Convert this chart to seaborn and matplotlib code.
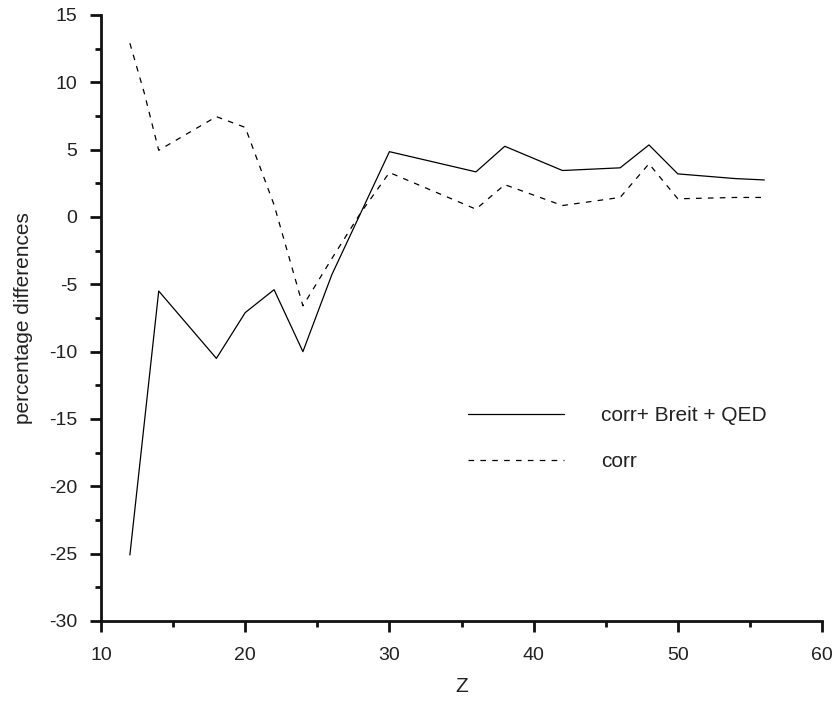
import matplotlib
matplotlib.use("Agg")
from matplotlib import pyplot as plt
from matplotlib.ticker import MultipleLocator
import seaborn as sns
import pandas as pd

# values
z_full = [12, 14, 18, 20, 22, 24, 26, 30, 36, 38, 42, 46, 48, 50, 54, 56]
diff_full = [-25.1, -5.5, -10.5, -7.1, -5.4, -10.0, -4.3, 4.85,
             3.35, 5.25, 3.45, 3.65, 5.35, 3.2, 2.85, 2.75]

z_corr = [12, 13, 14, 18, 20, 22, 24, 26, 28, 30, 36, 38, 42, 46, 48, 50, 54, 56]
diff_corr = [12.9, 9.2, 4.95, 7.45, 6.65, 0.9, -6.6, -3.1, 0.3, 3.3,
             0.58, 2.4, 0.85, 1.45, 3.95, 1.35, 1.45, 1.45]

label_full = "corr+ Breit + QED"
label_corr = "corr"

df_full = pd.DataFrame({"Z": z_full, "diff": diff_full})
df_corr = pd.DataFrame({"Z": z_corr, "diff": diff_corr})

sns.set_style("white")
plt.rcParams["font.family"] = ["Liberation Sans", "DejaVu Sans"]
plt.rcParams["axes.unicode_minus"] = False

fig = plt.figure(figsize=(8.33, 7.1), dpi=100)
ax = fig.add_axes([0.1213, 0.1254, 0.8655, 0.8535])

sns.lineplot(data=df_full, x="Z", y="diff", ax=ax, color="black",
             linewidth=0.9, label=label_full)
sns.lineplot(data=df_corr, x="Z", y="diff", ax=ax, color="black",
             linewidth=0.9, dashes=(4.5, 5), label=label_corr)

ax.set_xlim(10, 60)
ax.set_ylim(-30, 15)
ax.xaxis.set_major_locator(MultipleLocator(10))
ax.xaxis.set_minor_locator(MultipleLocator(5))
ax.yaxis.set_major_locator(MultipleLocator(5))
ax.yaxis.set_minor_locator(MultipleLocator(2.5))

for side in ["top", "right"]:
    ax.spines[side].set_visible(False)
for side in ["left", "bottom"]:
    ax.spines[side].set_linewidth(2)
    ax.spines[side].set_color("#111111")

ax.tick_params(which="major", direction="out", length=8, width=2,
               colors="#111111", labelsize=14, labelcolor="#222222")
ax.tick_params(axis="y", which="major", pad=9)
ax.tick_params(axis="x", which="major", pad=11)
ax.tick_params(which="minor", direction="out", length=4.5, width=2,
               colors="#111111")
ax.tick_params(left=True, bottom=True, which="both")

ax.set_xlabel("Z", fontsize=15, color="#222222", labelpad=9)
ax.set_ylabel("percentage differences", fontsize=15, color="#222222",
              labelpad=12)

leg = ax.legend(loc="upper left", bbox_to_anchor=(0.483, 0.385),
                frameon=False, fontsize=15, handlelength=4.6,
                handletextpad=1.8, labelspacing=1.3)
for text in leg.get_texts():
    text.set_color("#222222")

fig.savefig("out.png", dpi=100)
